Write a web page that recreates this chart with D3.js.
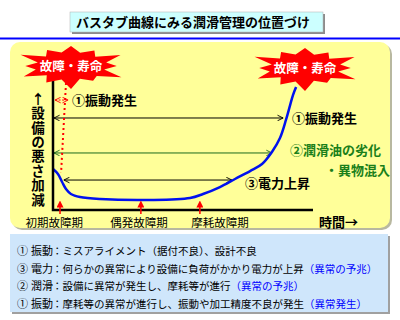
<!DOCTYPE html>
<html>
<head>
<meta charset="utf-8">
<script src="https://cdn.jsdelivr.net/npm/d3@7"></script>
<style>
  body { margin: 0; background: #fff; }
  svg { display: block; font-family: "Noto Sans CJK JP", sans-serif; }
</style>
</head>
<body>
<div id="chart"></div>
<script>
// bathtub curve (time 0-100, badness 0-100)
const curveTime = [0, 1.9, 3.5, 5.0, 6.9, 10.4, 18.1, 37.3, 52.7, 57.7, 64.2, 70, 75.8, 80.4, 84.2, 87.3, 89.6, 91.2, 92.3, 93.5];
const curveBad  = [31, 27.3, 21.2, 15.9, 12.1, 9.8, 8.3, 7.6, 9.1, 12.1, 17.4, 23.5, 29.5, 34.8, 43.9, 54.5, 68.2, 79.5, 87.1, 93.2];

// phases along the time axis
const phaseNames = ['初期故障期', '偶発故障期', '摩耗故障期'];
const phaseArrowAt = [2.7, 33.8, 56.5];
const phaseLabelAt = [0.5, 33.1, 64.2];

// warning levels drawn as double arrows
const levelNames = ['①振動発生', '②潤滑油の劣化', '③電力上昇'];
const levelValue = [69.7, 43.2, 22.7];
const levelFrom  = [0, 0, 3.8];
const levelTo    = [88.5, 84.2, 68.8];

// notes under the chart
const noteNum  = ['①', '③', '②', '①'];
const noteName = ['振動', '電力', '潤滑', '振動'];
const noteText = [
  '：ミスアライメント（据付不良）、設計不良',
  '：何らかの異常により設備に負荷がかかり電力が上昇',
  '：設備に異常が発生し、摩耗等が進行',
  '：摩耗等の異常が進行し、振動や加工精度不良が発生'
];
const noteFlag = ['', '（異常の予兆）', '（異常の予兆）', '（異常発生）'];

const W = 400, H = 320;
const svg = d3.select('#chart').append('svg')
  .attr('width', W).attr('height', H);

const defs = svg.append('defs');
function chevron(id, color) {
  defs.append('marker')
    .attr('id', id).attr('viewBox', '0 0 10 10')
    .attr('refX', 9).attr('refY', 5)
    .attr('markerWidth', 7).attr('markerHeight', 7)
    .attr('markerUnits', 'userSpaceOnUse')
    .attr('orient', 'auto-start-reverse')
    .append('path').attr('d', 'M1,1 L9,5 L1,9')
    .attr('fill', 'none').attr('stroke', color).attr('stroke-width', 1.3);
}
chevron('chev-k', '#000');
chevron('chev-g', '#1c6b1c');
chevron('chev-r', '#ff0000');
defs.append('marker')
  .attr('id', 'tri-r').attr('viewBox', '0 0 10 10')
  .attr('refX', 5).attr('refY', 5)
  .attr('markerWidth', 7).attr('markerHeight', 7)
  .attr('markerUnits', 'userSpaceOnUse')
  .attr('orient', 'auto')
  .append('path').attr('d', 'M0,0 L10,5 L0,10 Z').attr('fill', '#ff0000');

// title
svg.append('rect').attr('x', 72).attr('y', 14).attr('width', 253).attr('height', 20).attr('fill', '#8c8c8c');
svg.append('rect').attr('x', 70).attr('y', 12).attr('width', 253).attr('height', 20)
  .attr('fill', '#ccffff').attr('stroke', '#b0b0b0').attr('stroke-width', 0.5);
svg.append('text').attr('x', 76).attr('y', 27)
  .attr('font-size', '13px').attr('font-weight', 700).attr('fill', '#000')
  .text('バスタブ曲線にみる潤滑管理の位置づけ');

svg.append('line').attr('x1', 0).attr('x2', W).attr('y1', 38.5).attr('y2', 38.5)
  .attr('stroke', '#0000ff').attr('stroke-width', 2);

// yellow panel
svg.append('rect').attr('x', 12).attr('y', 44).attr('width', 380).attr('height', 186).attr('rx', 10).attr('fill', '#b8b8a0');
svg.append('rect').attr('x', 10).attr('y', 42).attr('width', 380).attr('height', 186).attr('rx', 10).attr('fill', '#ffff99');

const x = d3.scaleLinear().domain([0, 100]).range([53, 313]);
const y = d3.scaleLinear().domain([0, 100]).range([210, 78]);

// level lines
const levelColor = ['#000', '#1c6b1c', '#000'];
levelValue.forEach((v, i) => {
  svg.append('line')
    .attr('x1', x(levelFrom[i]) + 1).attr('x2', x(levelTo[i]))
    .attr('y1', y(v)).attr('y2', y(v))
    .attr('stroke', levelColor[i]).attr('stroke-width', 1)
    .attr('marker-start', `url(#${i === 1 ? 'chev-g' : 'chev-k'})`)
    .attr('marker-end', `url(#${i === 1 ? 'chev-g' : 'chev-k'})`);
});

// red dotted guide from the left burst
svg.append('line')
  .attr('x1', x(5.0)).attr('y1', y(96.2))
  .attr('x2', x(3.1)).attr('y2', y(28))
  .attr('stroke', '#ff0000').attr('stroke-width', 2).attr('stroke-dasharray', '2,3');

// small dotted double arrow
svg.append('line')
  .attr('x1', x(0.8)).attr('x2', x(5.8)).attr('y1', y(83.3)).attr('y2', y(83.3))
  .attr('stroke', '#ff0000').attr('stroke-width', 1).attr('stroke-dasharray', '2,1.5')
  .attr('marker-start', 'url(#chev-r)').attr('marker-end', 'url(#chev-r)');
svg.append('text').attr('x', 72).attr('y', y(83.3) + 5)
  .attr('font-size', '13px').attr('font-weight', 700).text('①振動発生');

// bathtub curve
const curveData = curveTime.map((t, i) => ({ t, v: curveBad[i] }));
svg.append('path').datum(curveData)
  .attr('d', d3.line().x(d => x(d.t)).y(d => y(d.v)).curve(d3.curveCatmullRom))
  .attr('fill', 'none').attr('stroke', '#0011ee').attr('stroke-width', 2.5);

// axes
svg.append('path')
  .attr('d', `M${x(0)},${y(100)} L${x(0)},${y(0)} L${x(100)},${y(0)}`)
  .attr('fill', 'none').attr('stroke', '#000').attr('stroke-width', 2.5);

// phase arrows and labels
phaseArrowAt.forEach((p, i) => {
  svg.append('line')
    .attr('x1', x(p)).attr('x2', x(p)).attr('y1', y(0) + 4).attr('y2', y(0) - 6)
    .attr('stroke', '#ff0000').attr('stroke-width', 1.5)
    .attr('marker-end', 'url(#tri-r)');
  svg.append('text').attr('x', x(phaseLabelAt[i])).attr('y', 227)
    .attr('text-anchor', 'middle').attr('font-size', '11.5px').text(phaseNames[i]);
});
svg.append('text').attr('x', 319).attr('y', 227)
  .attr('font-size', '13px').attr('font-weight', 700).text('時間→');

// vertical y label, one text in vertical writing mode
svg.append('text').attr('x', 38).attr('y', 92)
  .style('writing-mode', 'vertical-rl').style('text-orientation', 'upright')
  .attr('letter-spacing', '0.9px')
  .attr('font-size', '13.5px').attr('font-weight', 700).text('↑設備の悪さ加減');

// right-side labels
svg.append('text').attr('x', 292).attr('y', 123).attr('font-size', '13px').attr('font-weight', 700).text(levelNames[0]);
svg.append('text').attr('x', 290).attr('y', 155).attr('font-size', '13px').attr('font-weight', 700)
  .attr('fill', '#1a801a').text(levelNames[1]);
svg.append('text').attr('x', 325).attr('y', 175).attr('font-size', '13px').attr('font-weight', 700)
  .attr('fill', '#1a801a').text('・異物混入');
svg.append('text').attr('x', 245).attr('y', 188).attr('font-size', '13px').attr('font-weight', 700).text(levelNames[2]);

// bursts
const spike = [1, 0.68, 0.9, 0.66, 1.1, 0.7, 0.88, 0.66, 1.12, 0.7, 0.85, 0.66, 1.15, 0.7, 0.95, 0.66, 1.05, 0.7, 0.88, 0.66, 1.12, 0.68, 0.92, 0.7];
function burst(cx, cy) {
  const pts = spike.map((f, i) => {
    const a = i / spike.length * 2 * Math.PI - Math.PI / 2;
    return [cx + Math.cos(a) * 52 * f, cy + Math.sin(a) * 20 * f];
  });
  svg.append('polygon').attr('points', pts.map(p => p.join(',')).join(' ')).attr('fill', '#ff0000');
  svg.append('text').attr('x', cx).attr('y', cy + 5)
    .attr('text-anchor', 'middle').attr('font-size', '12.5px').attr('font-weight', 700)
    .attr('fill', '#fff').text('故障・寿命');
}
burst(71, 66);
burst(305, 68);

// notes box
svg.append('rect').attr('x', 12).attr('y', 236).attr('width', 378).attr('height', 78).attr('fill', '#a0a0a0');
svg.append('rect').attr('x', 10).attr('y', 234).attr('width', 378).attr('height', 78).attr('fill', '#cfe6fb');
noteNum.forEach((n, i) => {
  const ty = 255 + i * 17.6;
  svg.append('text').attr('x', 17).attr('y', ty).attr('font-size', '11px').text(n);
  svg.append('text').attr('x', 31).attr('y', ty).attr('font-size', '11px').text(noteName[i]);
  const t = svg.append('text').attr('x', 52).attr('y', ty).attr('font-size', '10.5px');
  t.append('tspan').text(noteText[i]);
  t.append('tspan').attr('fill', '#0000ff').text(noteFlag[i]);
});
</script>
</body>
</html>
